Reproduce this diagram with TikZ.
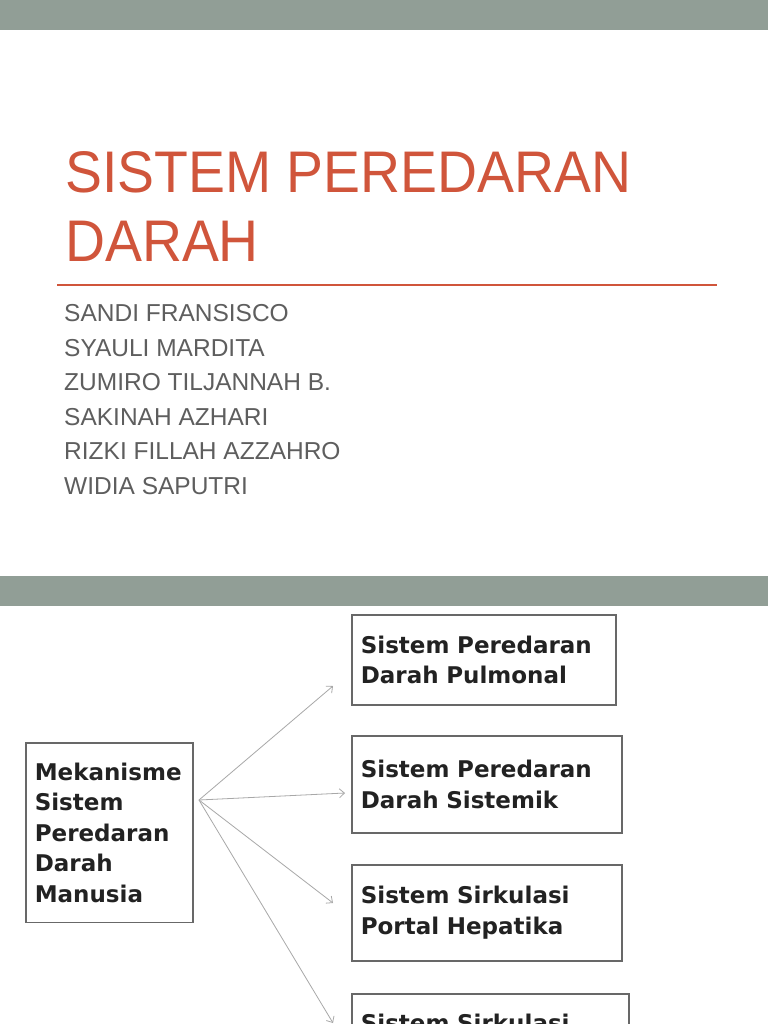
\documentclass[tikz,border=0pt]{standalone}
\usepackage{fontspec}
\usepackage{tikz}
\usetikzlibrary{arrows.meta}

\newfontfamily\titlefont[FakeStretch=0.943]{Liberation Sans}
\newfontfamily\namefont{Liberation Sans}
\newfontfamily\boxfont{DejaVu Sans}

\definecolor{bargray}{HTML}{919E96}
\definecolor{titlered}{HTML}{D0553B}
\definecolor{namegray}{HTML}{5E5E5E}
\definecolor{boxgray}{HTML}{686868}
\definecolor{boxtext}{HTML}{222222}
\definecolor{arrowgray}{HTML}{A8A8A8}

\begin{document}
\begin{tikzpicture}[x=1pt, y=-1pt, >={Straight Barb[length=5pt,width=9pt]},
		titletext/.style={anchor=base west, inner sep=0pt, text=titlered, font=\titlefont\fontsize{58.7}{67}\selectfont},
		nametext/.style={anchor=base west, inner sep=0pt, text=namegray, font=\namefont\fontsize{24.5}{30}\selectfont},
		topic/.style={draw=boxgray, line width=1.6pt, anchor=north west, inner xsep=9pt, align=left, text=boxtext, font=\boxfont\bfseries\fontsize{23}{30.5}\selectfont},
		link/.style={->, draw=arrowgray, line width=0.8pt}]
		\clip (0,0) rectangle (768,1024);
		
		% slides
		\fill[white] (0,0) rectangle (768,1024);
		\fill[bargray] (0,0) rectangle (768,30);
		\fill[bargray] (0,576) rectangle (768,606);
		
		% title slide
		\node[titletext] (title) at (65,193) {SISTEM PEREDARAN};
		\node[titletext] (titledarah) at (65,261) {DARAH};
		\draw[titlered, line width=1.2pt] (57,285) -- (717,285);
		\foreach \who [count=\i from 0] in {SANDI FRANSISCO, SYAULI MARDITA, ZUMIRO TILJANNAH B., SAKINAH AZHARI, RIZKI FILLAH AZZAHRO, WIDIA SAPUTRI}
			\node[nametext] (name\i) at (64,{321.7+34.5*\i}) {\who};
		
		% boxes
		\node[topic, text width=149pt, inner ysep=20pt] (mek) at (25,742) {Mekanisme\\Sistem\\Peredaran\\Darah\\Manusia};
		\node[topic, text width=246pt, minimum height=90pt] (pulmonal) at (351,614) {Sistem Peredaran\\Darah Pulmonal};
		\node[topic, text width=252pt, minimum height=97pt] (sistemik) at (351,735) {Sistem Peredaran\\Darah Sistemik};
		\node[topic, text width=252pt, minimum height=96pt] (hepatika) at (351,864) {Sistem Sirkulasi\\Portal Hepatika};
		\node[topic, text width=259pt, inner ysep=20pt] (sirkulasi) at (351,993) {Sistem Sirkulasi};
		
		% arrows
		\coordinate (hub) at (199,800);
		\coordinate (tipa) at (333,686);
		\coordinate (tipb) at (345,793);
		\coordinate (tipc) at (333,903);
		\coordinate (tipd) at (333,1023);
		\foreach \tip in {tipa,tipb,tipc,tipd}
			\draw[link] (hub) -- (\tip);
	\end{tikzpicture}
\end{document}
